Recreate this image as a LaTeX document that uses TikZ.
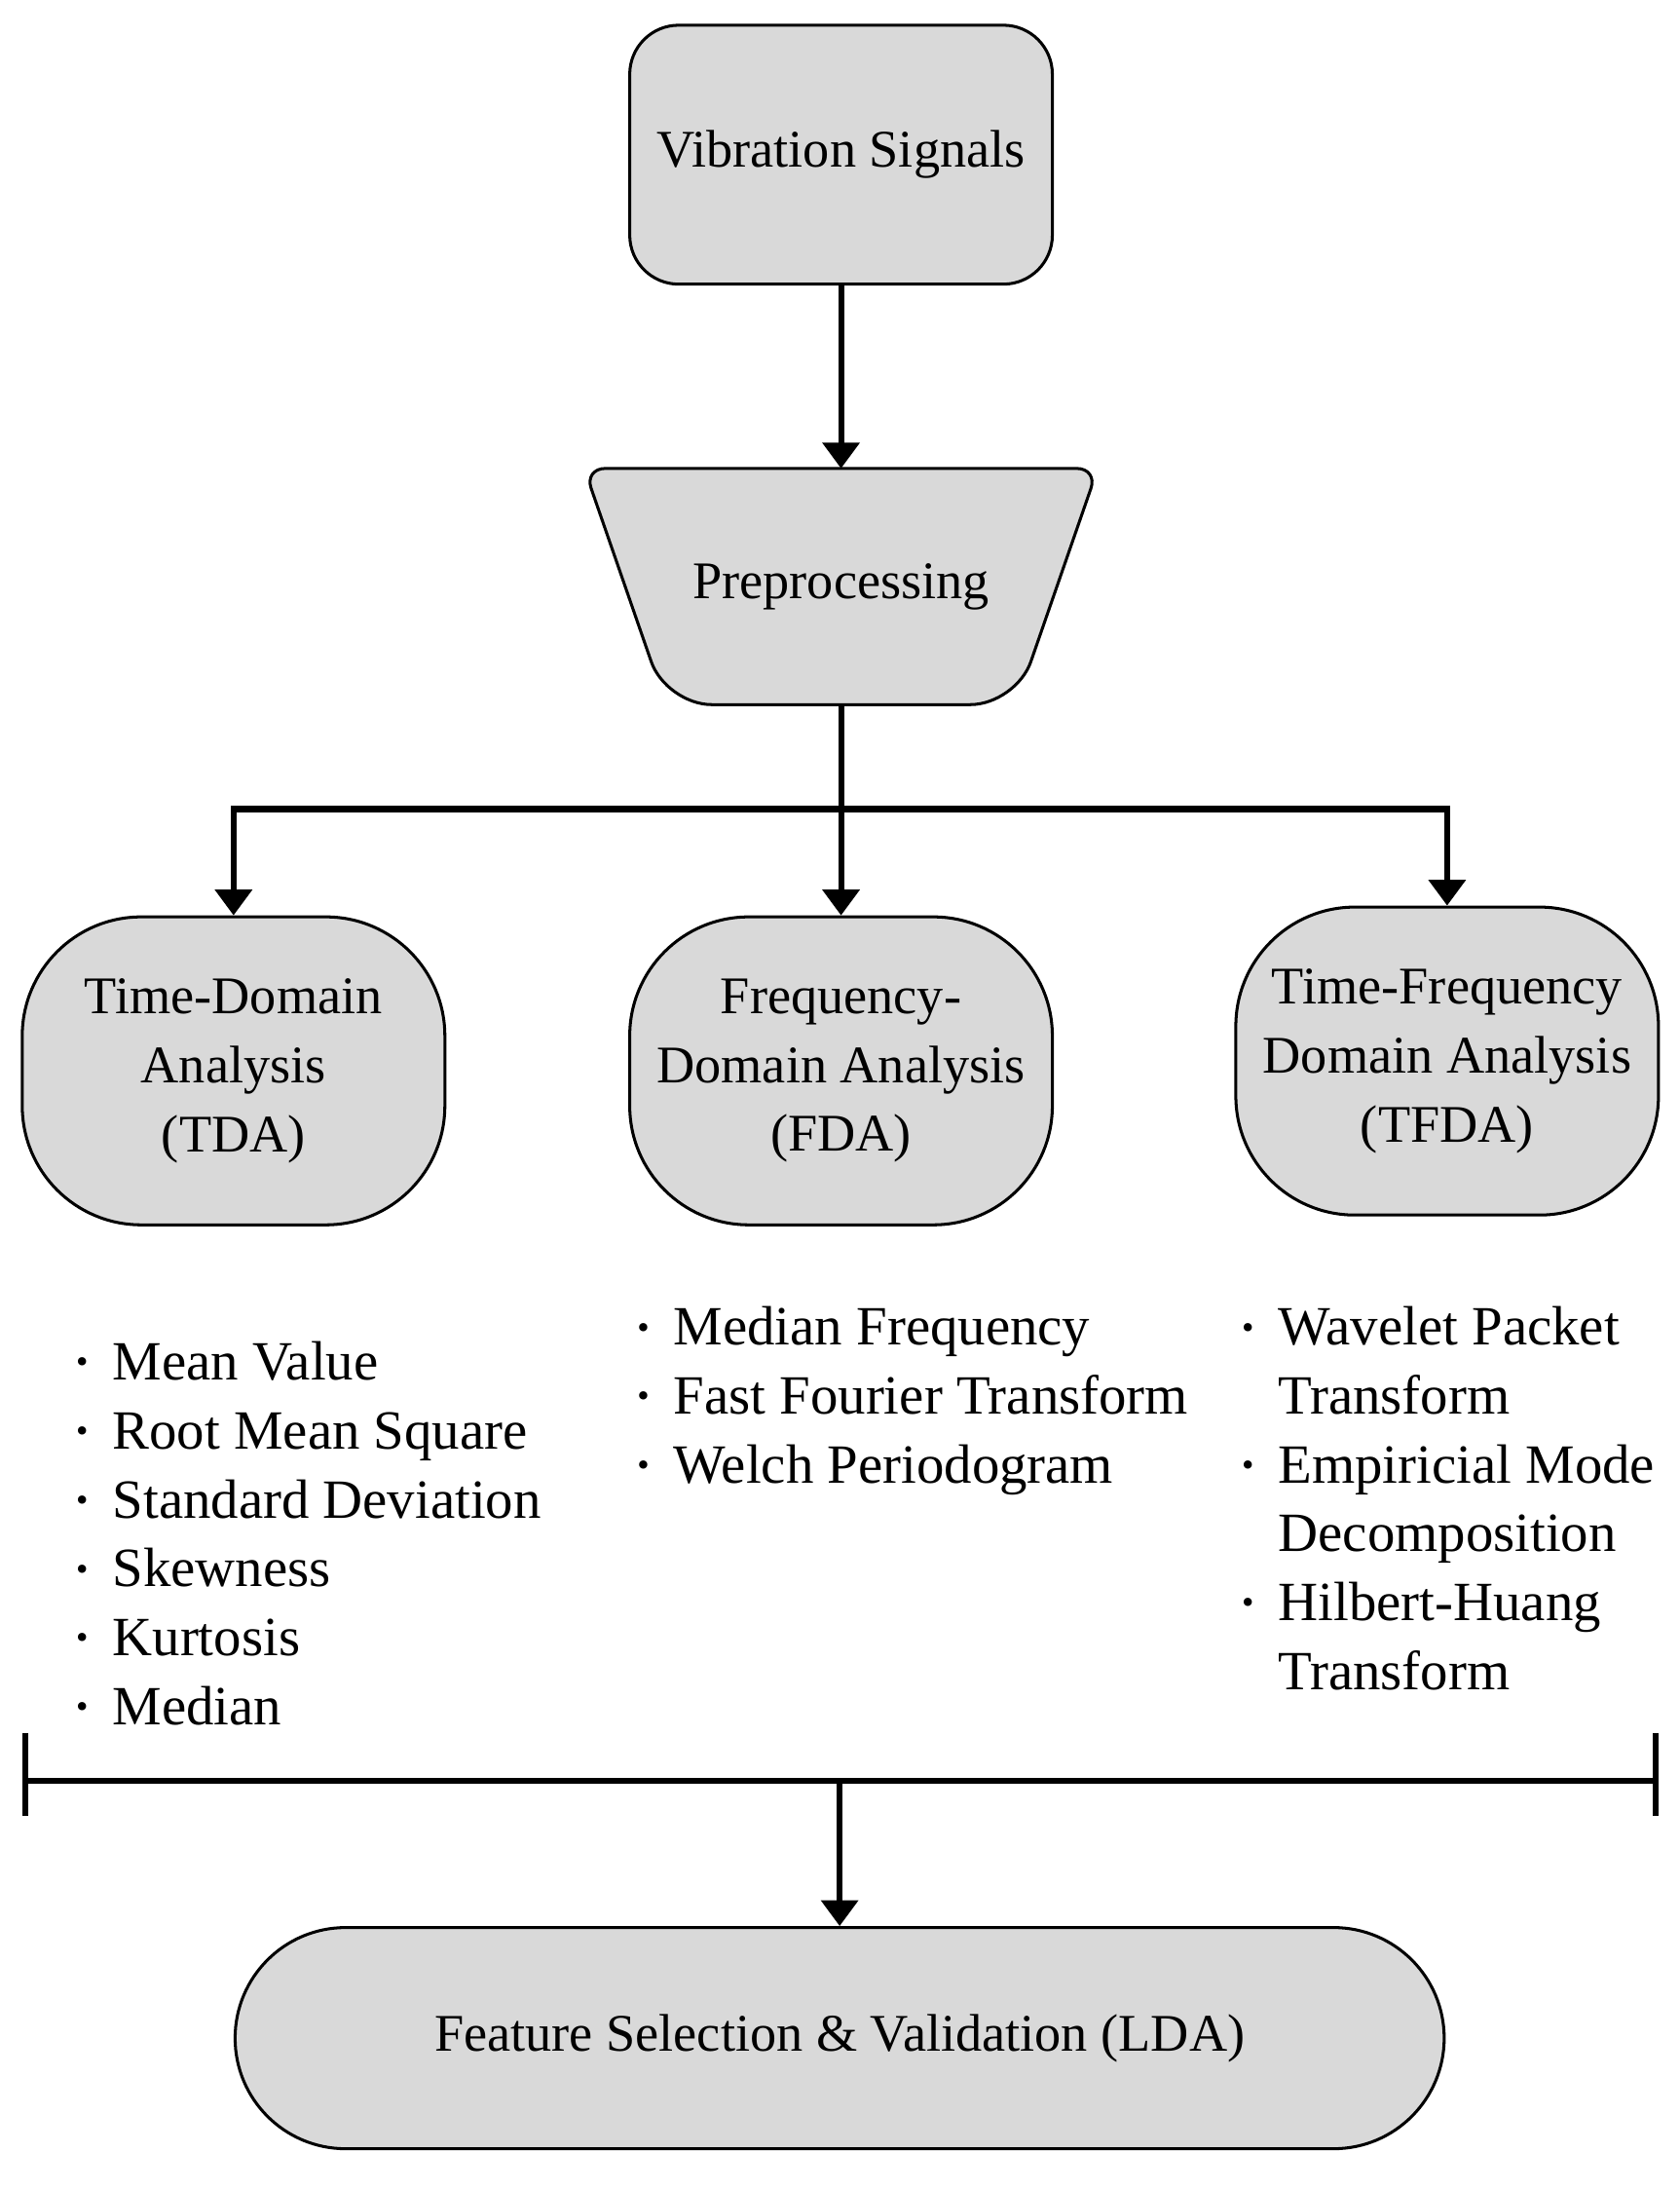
\documentclass[tikz,border=0pt]{standalone}
\usepackage{fontspec}
\setmainfont{Liberation Serif}
\usepackage{tikz}
\usetikzlibrary{positioning,arrows.meta,calc,backgrounds}
\definecolor{boxgray}{HTML}{D9D9D9}
\newcommand{\itm}{\raisebox{0.12em}{\fontsize{14}{14}\selectfont\textbullet}}

\begin{document}
\begin{tikzpicture}[
		every node/.style={font=\fontsize{21.5}{28}\selectfont, align=center},
		>={Triangle[length=3.7mm, width=5.2mm]},   % <-- треугольные стрелки
		box/.style={draw, fill=boxgray, line width=1.2pt},
		anl/.style={box, rounded corners=1.7cm, minimum width=6.04cm, minimum height=4.4cm},
		conn/.style={line width=2.4pt},
		lst/.style={anchor=base west, inner sep=0pt, align=left, font=\fontsize{22.5}{28}\selectfont}
		]
		\useasboundingbox (0,0) rectangle (24,-31.29);
		
		% Исходный сигнал
		\node[box, rounded corners=0.7cm, minimum width=6.04cm, minimum height=3.7cm] (vib) at (12.02,-2.21) {Vibration Signals};
		
		% Предобработка (трапеция рисуется на фоне)
		\node[minimum width=7.34cm, minimum height=3.36cm] (prep) at (12.02,-8.38) {Preprocessing};
		\begin{scope}[on background layer]
			\draw[box] (prep.north) [rounded corners=0.3cm] -- ([xshift=3.67cm]prep.north)
			[rounded corners=0.65cm] -- ([xshift=2.5cm]prep.south) -- ([xshift=-2.5cm]prep.south)
			[rounded corners=0.3cm] -- ([xshift=-3.67cm]prep.north) -- cycle;
		\end{scope}
		
		% Три вида анализа
		\node[anl] (fda) at (12.02,-15.3) {Frequency-\\Domain Analysis\\(FDA)};
		\node[anl, left=2.6cm of fda] (tda) {Time-Domain\\Analysis\\(TDA)};
		\node[anl, right=2.58cm of fda, yshift=0.14cm] (tfda) {Time-Frequency\\Domain Analysis\\(TFDA)};
		
		% Списки признаков
		\node[lst] (tdalist) at (1.08,-19.72) {\begin{tabular}[t]{@{}l@{\hspace{0.35cm}}l@{}}
				\itm & Mean Value\\
				\itm & Root Mean Square\\
				\itm & Standard Deviation\\
				\itm & Skewness\\
				\itm & Kurtosis\\
				\itm & Median
		\end{tabular}};
		\node[lst] (fdalist) at (9.1,-19.22) {\begin{tabular}[t]{@{}l@{\hspace{0.35cm}}l@{}}
				\itm & Median Frequency\\
				\itm & Fast Fourier Transform\\
				\itm & Welch Periodogram
		\end{tabular}};
		\node[lst] (tfdalist) at (17.74,-19.22) {\begin{tabular}[t]{@{}l@{\hspace{0.35cm}}l@{}}
				\itm & Wavelet Packet\\
				& Transform\\
				\itm & Empiricial Mode\\
				& Decomposition\\
				\itm & Hilbert-Huang\\
				& Transform
		\end{tabular}};
		
		% Итоговый блок
		\node[box, rounded corners=1.58cm, minimum width=17.28cm, minimum height=3.16cm] (lda) at (12,-29.12) {Feature Selection \& Validation (LDA)};
		
		% Точки ветвления и сбора
		\coordinate[below=3.18cm of prep.center] (split);
		\coordinate (join) at (12,-25.44);
		\coordinate (barL) at (0.36,-25.44);
		\coordinate (barR) at (23.66,-25.44);
		
		% Рисуем стрелки
		\draw[conn,->] (vib) -- (prep);
		\draw[conn,->] (prep) -- (fda);
		\draw[conn,->] (split) -| (tda);
		\draw[conn,->] (split) -| (tfda);
		
		\draw[conn] (barL) -- (barR);
		\draw[conn] ([yshift=0.68cm]barL) -- ([yshift=-0.5cm]barL);
		\draw[conn] ([yshift=0.68cm]barR) -- ([yshift=-0.5cm]barR);
		\draw[conn,->] (join) -- (lda);
	\end{tikzpicture}
\end{document}
